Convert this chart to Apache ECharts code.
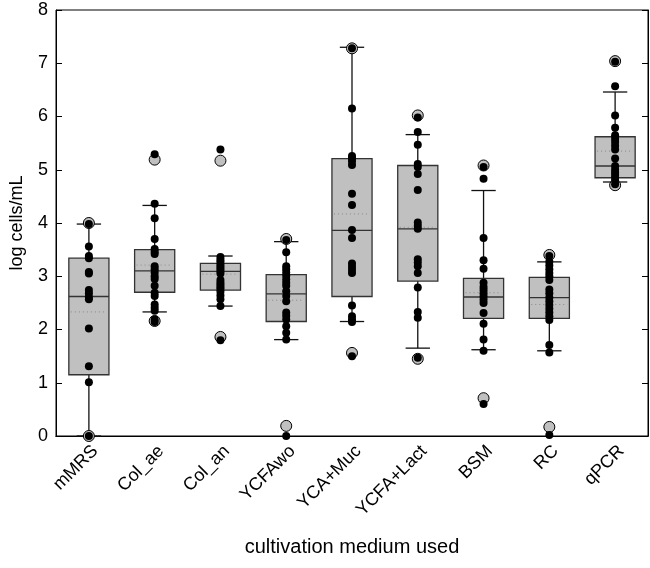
<!DOCTYPE html>
<html>
<head>
<meta charset="utf-8">
<script src="https://cdn.jsdelivr.net/npm/echarts@6/dist/echarts.min.js"></script>
<style>html,body{margin:0;padding:0;background:#fff;}#chart{width:650px;height:568px;}</style>
</head>
<body>
<div id="chart"></div>
<script>
var categories = ['mMRS','Col_ae','Col_an','YCFAwo','YCA+Muc','YCFA+Lact','BSM','RC','qPCR'];
var yTicks = [0,1,2,3,4,5,6,7,8];

// box statistics per medium
var whiskerLow  = [0.00, 2.33, 2.44, 1.81, 2.15, 1.65, 1.62, 1.60, 4.77];
var q1          = [1.15, 2.70, 2.74, 2.15, 2.62, 2.91, 2.21, 2.21, 4.85];
var median      = [2.62, 3.10, 3.09, 2.67, 3.86, 3.89, 2.61, 2.60, 5.07];
var q3          = [3.34, 3.50, 3.24, 3.03, 5.21, 5.08, 2.96, 2.98, 5.62];
var whiskerHigh = [3.98, 4.33, 3.38, 3.65, 7.30, 5.66, 4.61, 3.27, 6.46];
var mean        = [2.33, 3.21, 3.04, 2.55, 4.17, 3.92, 2.69, 2.47, 5.35];

// individual measurements (black dots)
var ptsMMRS = [3.98, 3.56, 3.38, 3.34, 3.08, 3.05, 2.74, 2.68, 2.61, 2.57, 2.02, 1.31, 1.01, 0.00];
var ptsColAe = [5.29, 4.36, 4.09, 3.70, 3.51, 3.46, 3.42, 3.19, 3.13, 3.07, 3.00, 2.95, 2.82, 2.69, 2.63, 2.47, 2.41, 2.35, 2.19, 2.14];
var ptsColAn = [5.38, 3.36, 3.31, 3.27, 3.22, 3.18, 3.14, 3.10, 3.05, 2.93, 2.88, 2.84, 2.80, 2.76, 2.71, 2.64, 2.57, 2.44, 1.80];
var ptsYCFAwo = [3.68, 3.45, 3.19, 3.13, 3.07, 3.01, 2.94, 2.88, 2.82, 2.72, 2.63, 2.53, 2.32, 2.26, 2.19, 2.06, 1.94, 1.81, 0.00];
var ptsYCAMuc = [7.28, 6.15, 5.26, 5.21, 5.16, 5.09, 4.55, 4.34, 3.87, 3.72, 3.24, 3.18, 3.12, 3.06, 2.45, 2.25, 2.19, 2.14, 1.50];
var ptsYCFALact = [5.98, 5.71, 5.47, 5.11, 5.05, 4.92, 4.62, 4.01, 3.95, 3.89, 3.32, 3.26, 3.19, 3.06, 2.79, 2.33, 2.22, 1.47];
var ptsBSM = [5.05, 4.83, 3.72, 3.30, 3.14, 2.88, 2.80, 2.74, 2.68, 2.62, 2.56, 2.50, 2.31, 2.11, 1.81, 1.60, 0.60];
var ptsRC = [3.38, 3.27, 3.20, 3.13, 3.06, 3.00, 2.93, 2.75, 2.68, 2.60, 2.53, 2.46, 2.39, 2.32, 2.25, 2.18, 1.71, 1.57, 0.02];
var ptsQPCR = [7.03, 6.57, 6.02, 5.79, 5.65, 5.58, 5.52, 5.45, 5.38, 5.21, 5.07, 5.00, 4.95, 4.90, 4.85, 4.80, 4.73];

// 5th / 95th percentile markers (grey circles)
var outHigh = [4.00, 5.19, 5.17, 3.70, 7.28, 6.02, 5.08, 3.40, 7.04];
var outLow  = [0.00, 2.16, 1.86, 0.19, 1.56, 1.45, 0.71, 0.17, 4.71];

var pointLists = [ptsMMRS, ptsColAe, ptsColAn, ptsYCFAwo, ptsYCAMuc, ptsYCFALact, ptsBSM, ptsRC, ptsQPCR];

var boxData = categories.map(function (c, i) {
  return [i, whiskerLow[i], q1[i], median[i], q3[i], whiskerHigh[i], mean[i]];
});
var dotData = [];
pointLists.forEach(function (list, i) {
  list.forEach(function (v) { dotData.push([i, v]); });
});
var circleData = [];
categories.forEach(function (c, i) {
  circleData.push([i, outHigh[i]]);
  circleData.push([i, outLow[i]]);
});

var FONT = '"Liberation Sans", Arial, sans-serif';

function renderBox(params, api) {
  var i = api.value(0);
  var band = api.size([1, 0])[0];
  var bw = band * 0.61, cw = band * 0.37;
  var pLow = api.coord([i, api.value(1)]);
  var pQ1 = api.coord([i, api.value(2)]);
  var pMed = api.coord([i, api.value(3)]);
  var pQ3 = api.coord([i, api.value(4)]);
  var pHigh = api.coord([i, api.value(5)]);
  var pMean = api.coord([i, api.value(6)]);
  var x = pMed[0];
  var lineStyle = { stroke: '#111', lineWidth: 1.3, fill: null };
  return {
    type: 'group',
    children: [
      { type: 'line', shape: { x1: x, y1: pQ3[1], x2: x, y2: pHigh[1] }, style: lineStyle },
      { type: 'line', shape: { x1: x, y1: pQ1[1], x2: x, y2: pLow[1] }, style: lineStyle },
      { type: 'line', shape: { x1: x - cw / 2, y1: pHigh[1], x2: x + cw / 2, y2: pHigh[1] }, style: lineStyle },
      { type: 'line', shape: { x1: x - cw / 2, y1: pLow[1], x2: x + cw / 2, y2: pLow[1] }, style: lineStyle },
      { type: 'rect', shape: { x: x - bw / 2, y: pQ3[1], width: bw, height: pQ1[1] - pQ3[1] },
        style: { fill: '#c0c0c0', stroke: '#333', lineWidth: 1.3 } },
      { type: 'line', shape: { x1: x - bw / 2, y1: pMed[1], x2: x + bw / 2, y2: pMed[1] },
        style: { stroke: '#333', lineWidth: 1.3 } },
      { type: 'line', shape: { x1: x - bw / 2 + 2, y1: pMean[1], x2: x + bw / 2 - 2, y2: pMean[1] },
        style: { stroke: '#888', lineWidth: 1, lineDash: [1, 3] } }
    ]
  };
}

var chart = echarts.init(document.getElementById('chart'), null, { renderer: 'canvas' });
chart.setOption({
  animation: false,
  backgroundColor: '#fff',
  grid: { left: 55, right: 2, top: 10, bottom: 132, show: true, borderColor: '#000', borderWidth: 1 },
  xAxis: [{
    type: 'category', data: categories, position: 'bottom',
    axisLine: { lineStyle: { color: '#000', width: 1 } },
    axisTick: { inside: true, alignWithLabel: true, length: 6, lineStyle: { color: '#000' } },
    axisLabel: { rotate: 45, margin: 6, fontSize: 18, color: '#000', fontFamily: FONT, interval: 0,
      verticalAlign: 'top' },
    name: 'cultivation medium used', nameLocation: 'middle', nameGap: 101,
    nameTextStyle: { fontSize: 20, color: '#000', fontFamily: FONT }
  }, {
    type: 'category', data: categories, position: 'top',
    axisLine: { lineStyle: { color: '#000', width: 1 } },
    axisTick: { inside: true, alignWithLabel: true, length: 6, lineStyle: { color: '#000' } },
    axisLabel: { show: false }
  }],
  yAxis: [{
    type: 'value', min: 0, max: 8, interval: 1, position: 'left',
    splitLine: { show: false },
    axisLine: { show: true, lineStyle: { color: '#000', width: 1 } },
    axisTick: { show: true, inside: true, length: 6, lineStyle: { color: '#000' } },
    axisLabel: { fontSize: 18, color: '#000', fontFamily: FONT, margin: 8,
      formatter: function (v) { return yTicks.indexOf(v) >= 0 ? String(v) : ''; } },
    name: 'log cells/mL', nameLocation: 'middle', nameGap: 30,
    nameTextStyle: { fontSize: 18, color: '#000', fontFamily: FONT }
  }, {
    type: 'value', min: 0, max: 8, interval: 1, position: 'right',
    splitLine: { show: false },
    axisLine: { show: true, lineStyle: { color: '#000', width: 1 } },
    axisTick: { show: true, inside: true, length: 6, lineStyle: { color: '#000' } },
    axisLabel: { show: false }
  }],
  series: [{
    type: 'custom', xAxisIndex: 0, yAxisIndex: 0, z: 2,
    renderItem: renderBox, data: boxData,
    encode: { x: 0, y: [1, 2, 3, 4, 5, 6] }
  }, {
    type: 'scatter', xAxisIndex: 0, yAxisIndex: 0, z: 3,
    symbol: 'circle', symbolSize: 11, data: circleData,
    itemStyle: { color: '#c0c0c0', borderColor: '#000', borderWidth: 1, opacity: 1 }
  }, {
    type: 'scatter', xAxisIndex: 0, yAxisIndex: 0, z: 4,
    symbol: 'circle', symbolSize: 8, data: dotData,
    itemStyle: { color: '#000', opacity: 1 }
  }]
});
</script>
</body>
</html>
